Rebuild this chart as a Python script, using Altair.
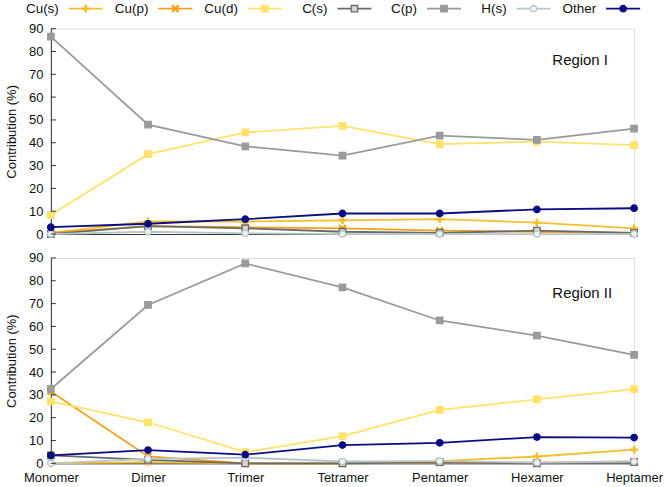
import altair as alt
import pandas as pd

# Categories and series
oligomers = ["Monomer", "Dimer", "Trimer", "Tetramer", "Pentamer", "Hexamer", "Heptamer"]
series = ["Cu(s)", "Cu(p)", "Cu(d)", "C(s)", "C(p)", "H(s)", "Other"]
regions = ["Region I", "Region II"]
y_ticks = [0, 10, 20, 30, 40, 50, 60, 70, 80, 90]

# Contribution (%) per series, Region I
r1_cu_s = [0.5, 5.5, 5.5, 6.0, 6.5, 5.0, 2.5]
r1_cu_p = [0.5, 3.5, 3.0, 2.5, 1.5, 1.0, 0.5]
r1_cu_d = [8.3, 35.0, 44.5, 47.4, 39.4, 40.5, 39.0]
r1_c_s = [0.0, 3.5, 2.5, 1.0, 0.5, 1.5, 0.5]
r1_c_p = [86.5, 47.9, 38.4, 34.4, 43.1, 41.3, 46.2]
r1_h_s = [0.0, 1.0, 0.3, 0.0, 0.0, 0.0, 0.0]
r1_other = [3.0, 4.5, 6.5, 9.0, 9.0, 10.8, 11.3]

# Contribution (%) per series, Region II
r2_cu_s = [0.0, 0.5, 0.0, 0.0, 1.0, 3.0, 6.0]
r2_cu_p = [31.5, 3.0, 0.0, 0.0, 0.3, 0.3, 0.8]
r2_cu_d = [27.2, 18.0, 4.9, 11.9, 23.4, 28.0, 32.5]
r2_c_s = [3.5, 1.5, 0.0, 0.0, 0.5, 0.0, 0.5]
r2_c_p = [32.6, 69.4, 87.6, 77.1, 62.6, 56.0, 47.5]
r2_h_s = [0.0, 2.0, 2.5, 0.8, 1.0, 0.3, 0.8]
r2_other = [3.5, 5.8, 3.8, 8.0, 9.0, 11.5, 11.3]

region_values = {
    "Region I": [r1_cu_s, r1_cu_p, r1_cu_d, r1_c_s, r1_c_p, r1_h_s, r1_other],
    "Region II": [r2_cu_s, r2_cu_p, r2_cu_d, r2_c_s, r2_c_p, r2_h_s, r2_other],
}

# Styles
line_colors = ["#f5bf2a", "#f5a01a", "#ffe26a", "#6a6a6a", "#9a9a9a", "#b7c5c9", "#0b0b85"]
fill_colors = ["#f5bf2a", "#f5a01a", "#ffe26a", "#d6d6d6", "#9a9a9a", "#eef2f3", "#0b0b85"]
plus_path = "M-0.18,-1H0.18V-0.18H1V0.18H0.18V1H-0.18V0.18H-1V-0.18H-0.18Z"
x_path = "M-0.75,-1L0,-0.25L0.75,-1L1,-0.75L0.25,0L1,0.75L0.75,1L0,0.25L-0.75,1L-1,0.75L-0.25,0L-1,-0.75Z"
shapes = [plus_path, x_path, "square", "square", "square", "circle", "circle"]

FONT = "Liberation Sans"

rows = []
for reg in regions:
    for s, vals in zip(series, region_values[reg]):
        for o, v in zip(oligomers, vals):
            rows.append({"region": reg, "series": s, "oligomer": o, "value": v})
df = pd.DataFrame(rows)

color_scale = alt.Scale(domain=series, range=line_colors)
fill_scale = alt.Scale(domain=series, range=fill_colors)
shape_scale = alt.Scale(domain=series, range=shapes)
y_scale = alt.Scale(domain=[0, 90], nice=False, zero=True)

y_axis = alt.Axis(
    values=y_ticks, tickCount=10, title="Contribution (%)", ticks=False, grid=False,
    domainColor="#333333", labelFontSize=13, labelPadding=8,
    labelColor="#111111", labelFont=FONT, titleFont=FONT,
    titleFontSize=13, titleFontWeight="normal", titleColor="#111111",
    titlePadding=10, labelOverlap=False,
)
y_enc = alt.Y("value:Q", scale=y_scale, axis=y_axis)

W, H = 585, 206
one_row = pd.DataFrame({"k": [0]})


def corner(px, py):
    # transparent zero-length rule that pins the outer extent of the figure
    return alt.Chart(one_row).mark_rule(strokeOpacity=0, opacity=0).encode(
        x=alt.value(px), x2=alt.value(px), y=alt.value(py), y2=alt.value(py)
    )


def panel(reg, show_labels, label_y):
    x_axis = alt.Axis(
        labels=show_labels, ticks=False, title=None, domain=True,
        domainColor="#333333", labelFontSize=13, labelPadding=8,
        labelColor="#111111", labelFont=FONT, grid=False,
        labelAngle=0, labelOverlap=False,
    )
    x = alt.X("oligomer:N", sort=oligomers,
              scale=alt.Scale(domain=oligomers, type="point", padding=0),
              axis=x_axis)

    base = alt.Chart(df).transform_filter(alt.datum.region == reg)
    lines = base.mark_line(strokeWidth=1.8).encode(
        x=x, y=y_enc, color=alt.Color("series:N", scale=color_scale, legend=None)
    )
    points = base.mark_point(size=42, strokeWidth=1.3, opacity=1, fillOpacity=1).encode(
        x=x, y=y_enc,
        shape=alt.Shape("series:N", scale=shape_scale, legend=None),
        fill=alt.Fill("series:N", scale=fill_scale, legend=None),
        stroke=alt.Stroke("series:N", scale=color_scale, legend=None),
    )
    tick_df = pd.DataFrame({"value": y_ticks})
    inner_ticks = alt.Chart(tick_df).mark_rule(color="#333333", strokeWidth=1).encode(
        y=y_enc, x=alt.value(0), x2=alt.value(5)
    )
    label = alt.Chart(pd.DataFrame({"label": [reg]})).mark_text(
        font=FONT, fontSize=15, color="#111111", align="left", baseline="middle"
    ).encode(text="label:N", x=alt.value(503), y=alt.value(label_y))
    return alt.layer(lines, points, inner_ticks, label)


top = panel("Region I", False, 31)
bottom = alt.layer(panel("Region II", True, 35), corner(W + 31, H + 24))

# Legend row above the top panel: label, then line sample with its marker
leg_df = pd.DataFrame({"series": series, "idx": list(range(len(series)))})
leg_base = alt.Chart(leg_df).transform_calculate(
    a="datum.idx - 0.19", b="datum.idx + 0.19"
)
leg_x_scale = alt.Scale(domain=[0, 6], range=[35, 574])
leg_y = -20
leg_rule = leg_base.mark_rule(strokeWidth=1.8).encode(
    x=alt.X("a:Q", scale=leg_x_scale, axis=None),
    x2="b:Q",
    y=alt.value(leg_y),
    color=alt.Color("series:N", scale=color_scale, legend=None),
)
leg_point = leg_base.mark_point(size=42, strokeWidth=1.3, opacity=1, fillOpacity=1).encode(
    x=alt.X("idx:Q", scale=leg_x_scale, axis=None),
    y=alt.value(leg_y),
    shape=alt.Shape("series:N", scale=shape_scale, legend=None),
    fill=alt.Fill("series:N", scale=fill_scale, legend=None),
    stroke=alt.Stroke("series:N", scale=color_scale, legend=None),
)
leg_text = leg_base.mark_text(
    font=FONT, fontSize=13.5, color="#111111", align="right", baseline="middle", dx=-27
).encode(
    x=alt.X("idx:Q", scale=leg_x_scale, axis=None),
    y=alt.value(leg_y),
    text="series:N",
)

top_with_legend = alt.layer(
    top, leg_rule, leg_point, leg_text, corner(-50, -27)
).resolve_scale(x="independent")

chart = alt.vconcat(
    top_with_legend.properties(width=W, height=H),
    bottom.properties(width=W, height=H),
    spacing=24,
).properties(
    bounds="flush",
    padding=0,
).configure_view(
    stroke="#555555", strokeWidth=1
).configure(
    background="white"
)

chart.save("out.html", embed_options={"renderer": "svg", "actions": False})
